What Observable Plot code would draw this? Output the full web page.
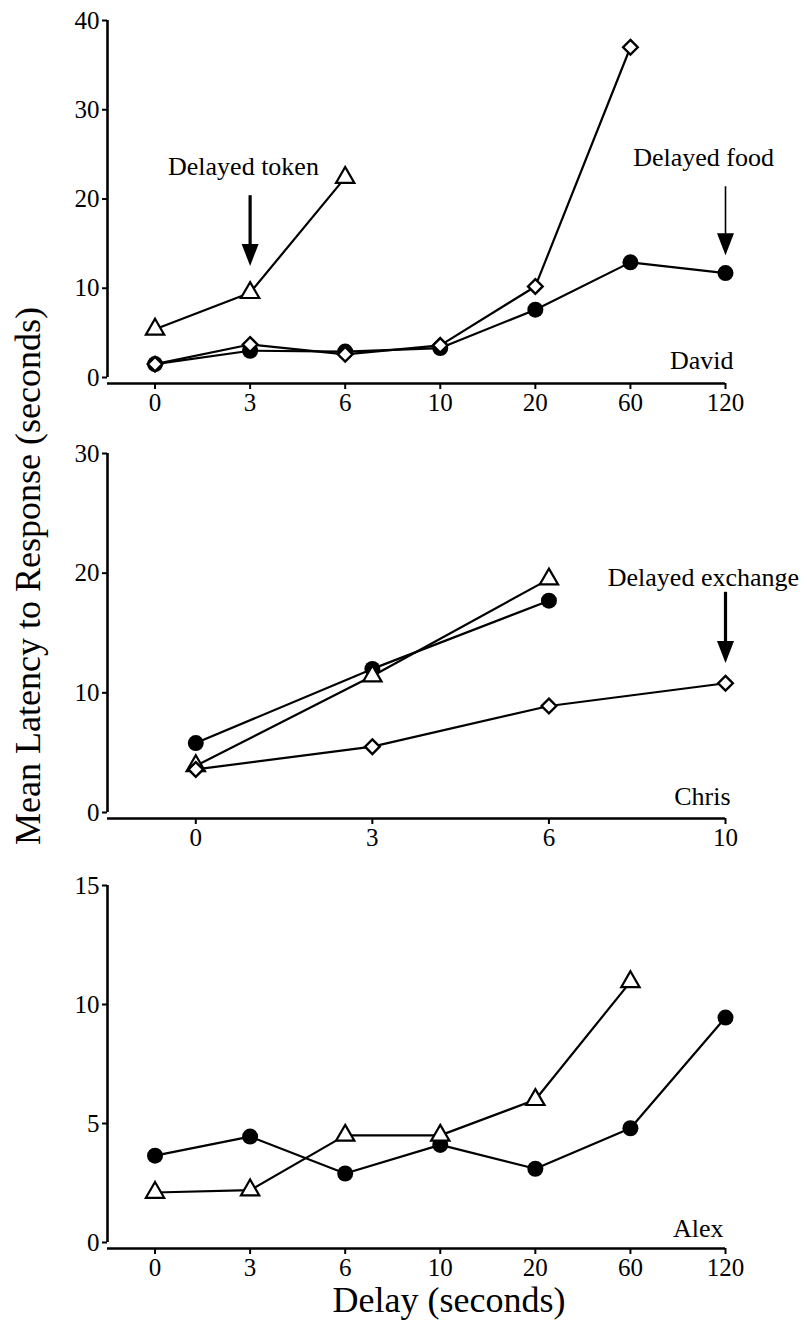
<!DOCTYPE html>
<html>
<head>
<meta charset="utf-8">
<script src="https://cdn.jsdelivr.net/npm/d3@7"></script>
<script src="https://cdn.jsdelivr.net/npm/@observablehq/plot@0.6"></script>
<style>
  html, body { margin: 0; padding: 0; background: #fff; }
  #root { position: relative; width: 807px; height: 1326px; overflow: hidden; font-family: "Liberation Serif", "Times New Roman", serif; color: #000; }
  .panel { position: absolute; left: 0; }
  .ytitle { position: absolute; left: 28px; top: 576px; transform: translate(-50%, -50%) rotate(-90deg); white-space: nowrap; font-size: 36px; line-height: 1; }
  .xtitle { position: absolute; left: 449px; top: 1300px; transform: translate(-50%, -50%); white-space: nowrap; font-size: 36px; line-height: 1; }
</style>
</head>
<body>
<div id="root">
  <div class="panel" id="p1" style="top:0px"></div>
  <div class="panel" id="p2" style="top:420px"></div>
  <div class="panel" id="p3" style="top:860px"></div>
  <div class="ytitle">Mean Latency to Response (seconds)</div>
  <div class="xtitle">Delay (seconds)</div>
</div>
<script>
// ---------- data ----------
const longDelays = ["0", "3", "6", "10", "20", "60", "120"];
const shortDelays = ["0", "3", "6", "10"];

// David (top)
const davidCircle   = [1.5, 3.0, 2.9, 3.3, 7.6, 12.9, 11.7];
const davidTriangle = [5.4, 9.5, 22.4];
const davidDiamond  = [1.5, 3.7, 2.6, 3.6, 10.2, 37.0];
const davidTicks = [0, 10, 20, 30, 40];

// Chris (middle)
const chrisCircle   = [5.8, 12.0, 17.7];
const chrisTriangle = [3.9, 11.4, 19.5];
const chrisDiamond  = [3.6, 5.5, 8.9, 10.8];
const chrisTicks = [0, 10, 20, 30];

// Alex (bottom)
const alexCircle   = [3.65, 4.45, 2.9, 4.1, 3.1, 4.8, 9.45];
const alexTriangle = [2.1, 2.2, 4.5, 4.5, 6.0, 10.95];
const alexTicks = [0, 5, 10, 15];

// ---------- helpers ----------
const FONT = '"Liberation Serif", "Times New Roman", serif';
const toPts = arr => arr.map((v, i) => ({i, v}));

const arrowHead = {
  draw(ctx) {
    ctx.moveTo(0, 0);
    ctx.lineTo(-8.5, -22);
    ctx.lineTo(8.5, -22);
    ctx.closePath();
  }
};

function seriesMarks(circle, triangle, diamond) {
  const marks = [];
  const all = [circle, triangle, diamond].filter(Boolean);
  for (const s of all) marks.push(Plot.line(toPts(s), {x: "i", y: "v", stroke: "black", strokeWidth: 2.2}));
  if (circle) marks.push(Plot.dot(toPts(circle), {x: "i", y: "v", r: 8, fill: "black", stroke: "none"}));
  if (triangle) marks.push(Plot.dot(toPts(triangle), {x: "i", y: "v", symbol: "triangle", r: 6.8, fill: "white", stroke: "black", strokeWidth: 2.2}));
  if (diamond) marks.push(Plot.dot(toPts(diamond), {x: "i", y: "v", symbol: "diamond2", r: 6.6, fill: "white", stroke: "black", strokeWidth: 2.4}));
  return marks;
}

function arrowMarks(xi, yTop, yTip, shaftWidth) {
  return [
    Plot.ruleX([xi], {y1: yTop, y2: yTip, stroke: "black", strokeWidth: shaftWidth, dy: -6}),
    Plot.dot([{x: xi, y: yTip}], {x: "x", y: "y", symbol: arrowHead, fill: "black", stroke: "none"})
  ];
}

function panel({height, yRangeTop, yRangeBottom, marginBottom, yMax, yTicks, labels, name, nameDx, nameDy, extra}) {
  const n = labels.length;
  return Plot.plot({
    width: 807,
    height,
    marginLeft: 107,
    marginRight: 82,
    marginTop: yRangeTop,
    marginBottom,
    x: {domain: [-0.5, n - 1], axis: null},
    y: {domain: [0, yMax], range: [yRangeBottom, yRangeTop], axis: null},
    style: {fontFamily: FONT, fontSize: "25px", color: "black", background: "white", overflow: "visible"},
    marks: [
      Plot.axisY({ticks: yTicks, tickSize: 5, tickPadding: 3, strokeWidth: 2, label: null, fontSize: 25}),
      Plot.axisX({ticks: d3.range(n), tickFormat: i => labels[i], tickSize: 6, tickPadding: 4, strokeWidth: 2, label: null, fontSize: 25}),
      Plot.ruleX([-0.5], {y1: 0, y2: yMax, stroke: "black", strokeWidth: 2.6}),
      Plot.ruleY([0], {x1: -0.5, x2: n - 1, dy: 6, stroke: "black", strokeWidth: 2.6}),
      ...extra,
      Plot.text([name], {frameAnchor: "bottom-right", textAnchor: "end", dx: nameDx, dy: nameDy, fontSize: 26, fontFamily: FONT})
    ]
  });
}

// ---------- top: David ----------
document.getElementById("p1").append(panel({
  height: 420, yRangeTop: 20, yRangeBottom: 377, marginBottom: 37,
  yMax: 40, yTicks: davidTicks, labels: longDelays,
  name: "David", nameDx: 8, nameDy: -15,
  extra: [
    ...seriesMarks(davidCircle, davidTriangle, davidDiamond),
    ...arrowMarks(1, 19.7, 12.5, 3.2),
    ...arrowMarks(6, 20.7, 13.7, 1.6),
    Plot.text([{x: 0.93, y: 23.6, t: "Delayed token"}], {x: "x", y: "y", text: "t", fontSize: 26, fontFamily: FONT}),
    Plot.text([{x: 5.77, y: 24.6, t: "Delayed food"}], {x: "x", y: "y", text: "t", fontSize: 26, fontFamily: FONT})
  ]
}));

// ---------- middle: Chris ----------
document.getElementById("p2").append(panel({
  height: 440, yRangeTop: 33, yRangeBottom: 392, marginBottom: 42,
  yMax: 30, yTicks: chrisTicks, labels: shortDelays,
  name: "Chris", nameDx: 5, nameDy: -14,
  extra: [
    ...seriesMarks(chrisCircle, chrisTriangle, chrisDiamond),
    ...arrowMarks(3, 17.9, 12.5, 3.2),
    Plot.text([{x: 2.875, y: 19.6, t: "Delayed exchange"}], {x: "x", y: "y", text: "t", fontSize: 26, fontFamily: FONT})
  ]
}));

// ---------- bottom: Alex ----------
document.getElementById("p3").append(panel({
  height: 466, yRangeTop: 25, yRangeBottom: 382, marginBottom: 78,
  yMax: 15, yTicks: alexTicks, labels: longDelays,
  name: "Alex", nameDx: -2, nameDy: -12,
  extra: [
    ...seriesMarks(alexCircle, alexTriangle, null)
  ]
}));
</script>
</body>
</html>
